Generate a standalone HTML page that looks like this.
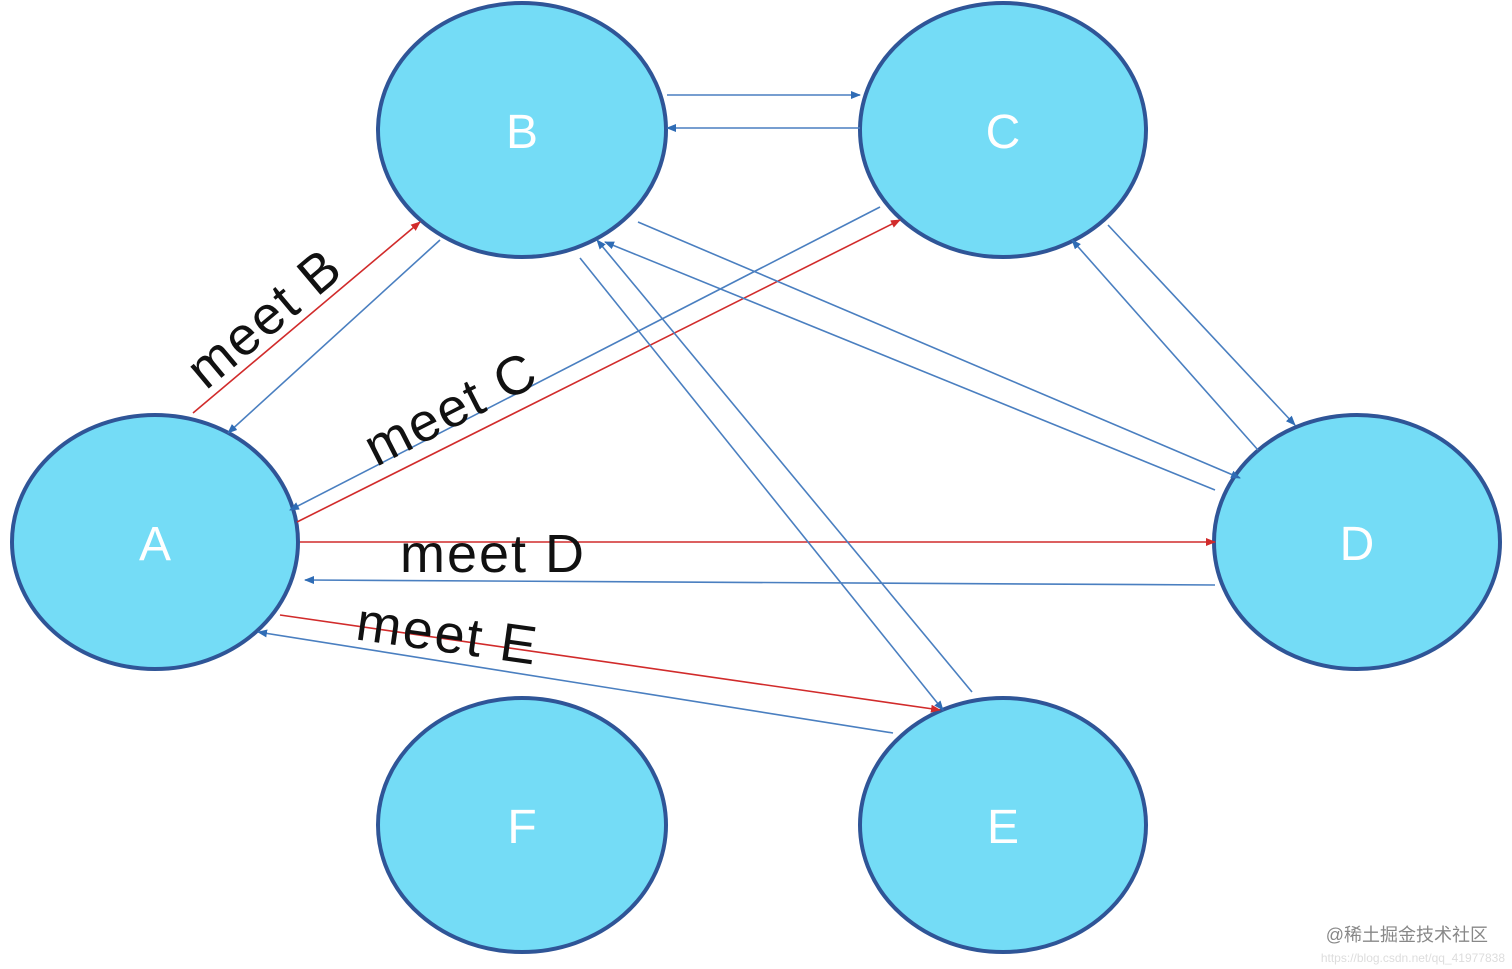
<!DOCTYPE html>
<html><head><meta charset="utf-8"><style>
html,body{margin:0;padding:0;background:#fff;width:1512px;height:969px;overflow:hidden}
</style></head><body>
<svg width="1512" height="969" viewBox="0 0 1512 969" xmlns="http://www.w3.org/2000/svg" font-family="Liberation Sans, sans-serif">
<defs>
<marker id="r" markerWidth="10" markerHeight="8" refX="9" refY="4" orient="auto" markerUnits="userSpaceOnUse"><path d="M0,0 L10,4 L0,8z" fill="#d12b2b"/></marker>
<marker id="b" markerWidth="10" markerHeight="8" refX="9" refY="4" orient="auto" markerUnits="userSpaceOnUse"><path d="M0,0 L10,4 L0,8z" fill="#2f6cb5"/></marker>
</defs>
<g fill="#74dcf6" stroke="#2f5597" stroke-width="4">
<ellipse cx="522" cy="130" rx="144" ry="127"/>
<ellipse cx="1003" cy="130" rx="143" ry="127"/>
<ellipse cx="155" cy="542" rx="143" ry="127"/>
<ellipse cx="1357" cy="542" rx="143" ry="127"/>
<ellipse cx="522" cy="825" rx="144" ry="127"/>
<ellipse cx="1003" cy="825" rx="143" ry="127"/>
</g>
<g fill="#fff" font-size="48" text-anchor="middle">
<text x="522" y="148">B</text><text x="1003" y="148">C</text>
<text x="155" y="560">A</text><text x="1357" y="560">D</text>
<text x="522" y="843">F</text><text x="1003" y="843">E</text>
</g>
<g stroke="#d12b2b" stroke-width="1.6" fill="none">
<line x1="193" y1="413" x2="420" y2="222" marker-end="url(#r)"/>
<line x1="297" y1="522" x2="900" y2="220" marker-end="url(#r)"/>
<line x1="300" y1="542" x2="1215" y2="542" marker-end="url(#r)"/>
<line x1="280" y1="615" x2="940" y2="710" marker-end="url(#r)"/>
</g>
<g stroke="#4a7fc0" stroke-width="1.6" fill="none">
<line x1="440" y1="240" x2="228" y2="433" marker-end="url(#b)"/>
<line x1="880" y1="207" x2="290" y2="510" marker-end="url(#b)"/>
<line x1="1215" y1="585" x2="305" y2="580" marker-end="url(#b)"/>
<line x1="893" y1="733" x2="258" y2="632" marker-end="url(#b)"/>
<line x1="667" y1="95" x2="860" y2="95" marker-end="url(#b)"/>
<line x1="860" y1="128" x2="667" y2="128" marker-end="url(#b)"/>
<line x1="638" y1="222" x2="1240" y2="478" marker-end="url(#b)"/>
<line x1="1215" y1="490" x2="605" y2="242" marker-end="url(#b)"/>
<line x1="580" y1="258" x2="943" y2="710" marker-end="url(#b)"/>
<line x1="972" y1="692" x2="597" y2="240" marker-end="url(#b)"/>
<line x1="1108" y1="225" x2="1295" y2="425" marker-end="url(#b)"/>
<line x1="1258" y1="450" x2="1072" y2="240" marker-end="url(#b)"/>
</g>
<g fill="#111" font-size="54" text-anchor="middle" letter-spacing="2">
<text transform="translate(276,332) rotate(-40)">meet B</text>
<text transform="translate(459,425) rotate(-27)">meet C</text>
<text x="493" y="572">meet D</text>
<text transform="translate(445,652) rotate(8)">meet E</text>
</g>
<text x="1488" y="941" font-size="18" fill="#888" text-anchor="end" font-family="Liberation Sans, Noto Sans CJK SC, sans-serif">@稀土掘金技术社区</text>
<text x="1505" y="962" font-size="12" fill="#ddd" text-anchor="end">https://blog.csdn.net/qq_41977838</text>
</svg>
</body></html>
